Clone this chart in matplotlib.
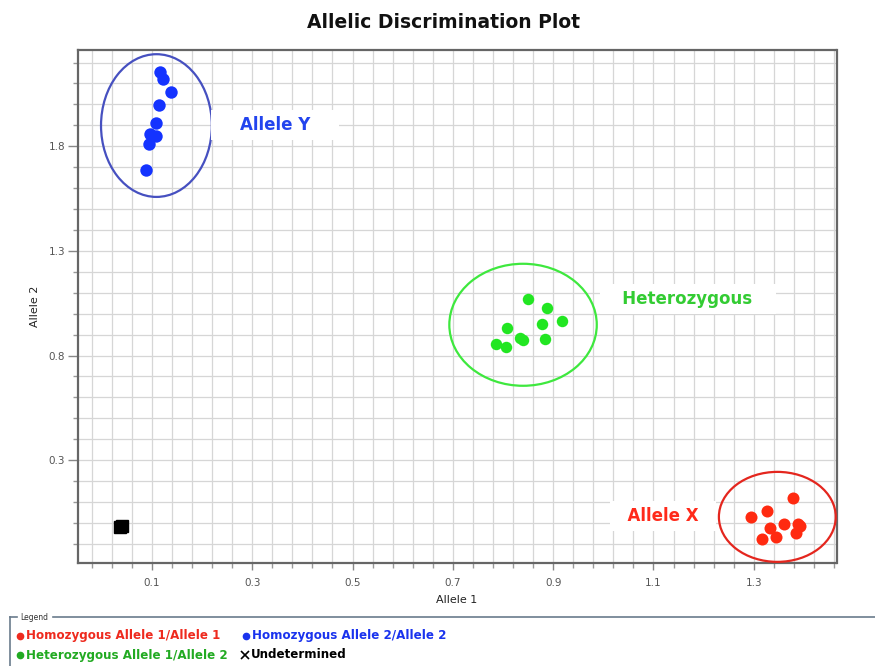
import numpy as np
import matplotlib
matplotlib.use('Agg')
import matplotlib.pyplot as plt
from matplotlib.patches import Ellipse
from matplotlib.lines import Line2D

# Data (Allele 1, Allele 2)
hom_y_x = [0.116, 0.122, 0.138, 0.114, 0.108, 0.096, 0.108, 0.094, 0.088]
hom_y_y = [2.154, 2.120, 2.058, 1.996, 1.910, 1.857, 1.848, 1.810, 1.685]

het_x = [0.849, 0.887, 0.918, 0.878, 0.808, 0.834, 0.840, 0.884, 0.786, 0.806]
het_y = [1.072, 1.029, 0.965, 0.950, 0.932, 0.886, 0.873, 0.881, 0.853, 0.841]

hom_x_x = [1.379, 1.294, 1.327, 1.332, 1.360, 1.389, 1.392, 1.385, 1.317, 1.345]
hom_x_y = [0.120, 0.030, 0.058, -0.026, -0.006, -0.006, -0.014, -0.047, -0.076, -0.067]

undet_x = [0.036, 0.040]
undet_y = [-0.021, -0.016]

# cluster ellipses: centre x, centre y, width, height
clusters = {
    'Allele Y': (0.109, 1.899, 0.221, 0.682),
    'Heterozygous': (0.840, 0.947, 0.294, 0.583),
    'Allele X': (1.347, 0.029, 0.233, 0.430),
}
label_pos = {
    'Allele Y': (0.345, 1.903),
    'Heterozygous': (1.168, 1.070),
    'Allele X': (1.119, 0.033),
}

x_major = [0.1, 0.3, 0.5, 0.7, 0.9, 1.1, 1.3]
y_major = [0.3, 0.8, 1.3, 1.8]

fig = plt.figure(figsize=(8.75, 6.66), dpi=100)
ax = fig.add_axes([0.0888, 0.1551, 0.8672, 0.7698])

ax.set_xlim(-0.048, 1.465)
ax.set_ylim(-0.19, 2.26)

ax.set_xticks(x_major)
ax.set_yticks(y_major)
ax.set_xticks(np.arange(-0.02, 1.47, 0.04), minor=True)
ax.set_yticks(np.arange(-0.1, 2.25, 0.1), minor=True)
ax.set_xticklabels([f'{v:.1f}' for v in x_major])
ax.set_yticklabels([f'{v:.1f}' for v in y_major])
ax.grid(which='both', color='#d6d6d6', linewidth=0.9, zorder=0)
ax.set_axisbelow(True)
ax.tick_params(which='major', length=7, width=1, color='#888888',
               labelsize=7.5, labelcolor='#555555', pad=2)
ax.tick_params(which='minor', length=3.5, width=1, color='#999999')
ax.tick_params(axis='x', which='major', length=5, pad=6)
for s in ax.spines.values():
    s.set_color('#666666')
    s.set_linewidth(1.6)

ax.scatter(hom_y_x, hom_y_y, s=80, color='#1433ff', zorder=3, linewidths=0)
ax.scatter(het_x, het_y, s=68, color='#22e622', zorder=3, linewidths=0)
ax.scatter(hom_x_x, hom_x_y, s=75, color='#ff2a10', zorder=3, linewidths=0)
ax.plot(undet_x, undet_y, 's', color='black', markersize=9, zorder=3)

ell_colors = {'Allele Y': '#4650c0', 'Heterozygous': '#3ee83e', 'Allele X': '#e4261e'}
txt_colors = {'Allele Y': '#2244ee', 'Heterozygous': '#33cc33', 'Allele X': '#ff2a1a'}
pads = {'Allele Y': '    ', 'Heterozygous': '   ', 'Allele X': '  '}
for name, (cx, cy, w, h) in clusters.items():
    ax.add_patch(Ellipse((cx, cy), w, h, fill=False, edgecolor=ell_colors[name],
                         linewidth=1.6, zorder=4))
    lx, ly = label_pos[name]
    ax.text(lx, ly, pads[name] + name + pads[name], ha='center', va='center',
            fontsize=12, fontweight='bold', color=txt_colors[name], zorder=5,
            bbox=dict(boxstyle='square,pad=0.35', facecolor='white', edgecolor='none'))

ax.set_xlabel('Allele 1', fontsize=8, color='#222222', labelpad=5)
ax.set_ylabel('Allele 2', fontsize=8, color='#222222', labelpad=6)

fig.text(0.507, 1 - 22 / 666, 'Allelic Discrimination Plot', ha='center', va='center',
         fontsize=13.5, fontweight='bold', color='#111111')

# legend panel at the bottom
W, H = 875, 666
def fx(px):
    return px / W
def fy(py):
    return 1 - py / H

frame_c = '#6a7b8c'
fig.add_artist(Line2D([fx(10), fx(10)], [fy(666), fy(617)], color=frame_c, lw=1.2))
fig.add_artist(Line2D([fx(10), fx(17)], [fy(617), fy(617)], color=frame_c, lw=1.2))
fig.add_artist(Line2D([fx(53), fx(875)], [fy(617), fy(617)], color=frame_c, lw=1.2))
fig.text(fx(20), fy(617), 'Legend', fontsize=5.5, color='#333333', va='center')

leg_items = [
    (20, 636, '#ee2a1e', 'o', 'Homozygous Allele 1/Allele 1'),
    (246, 636, '#1a33ee', 'o', 'Homozygous Allele 2/Allele 2'),
    (20, 655, '#22aa22', 'o', 'Heterozygous Allele 1/Allele 2'),
    (245, 655, 'black', 'x', 'Undetermined'),
]
for px, py, c, m, lab in leg_items:
    if m == 'o':
        fig.add_artist(Line2D([fx(px)], [fy(py)], marker='o', markersize=4.5,
                              color=c, linestyle='none'))
    else:
        fig.add_artist(Line2D([fx(px)], [fy(py)], marker='x', markersize=6,
                              markeredgewidth=1.2, color=c, linestyle='none'))
    fig.text(fx(px + 6), fy(py), lab, fontsize=8.6, fontweight='bold', color=c,
             va='center', ha='left')

fig.savefig('out.png', dpi=100)
